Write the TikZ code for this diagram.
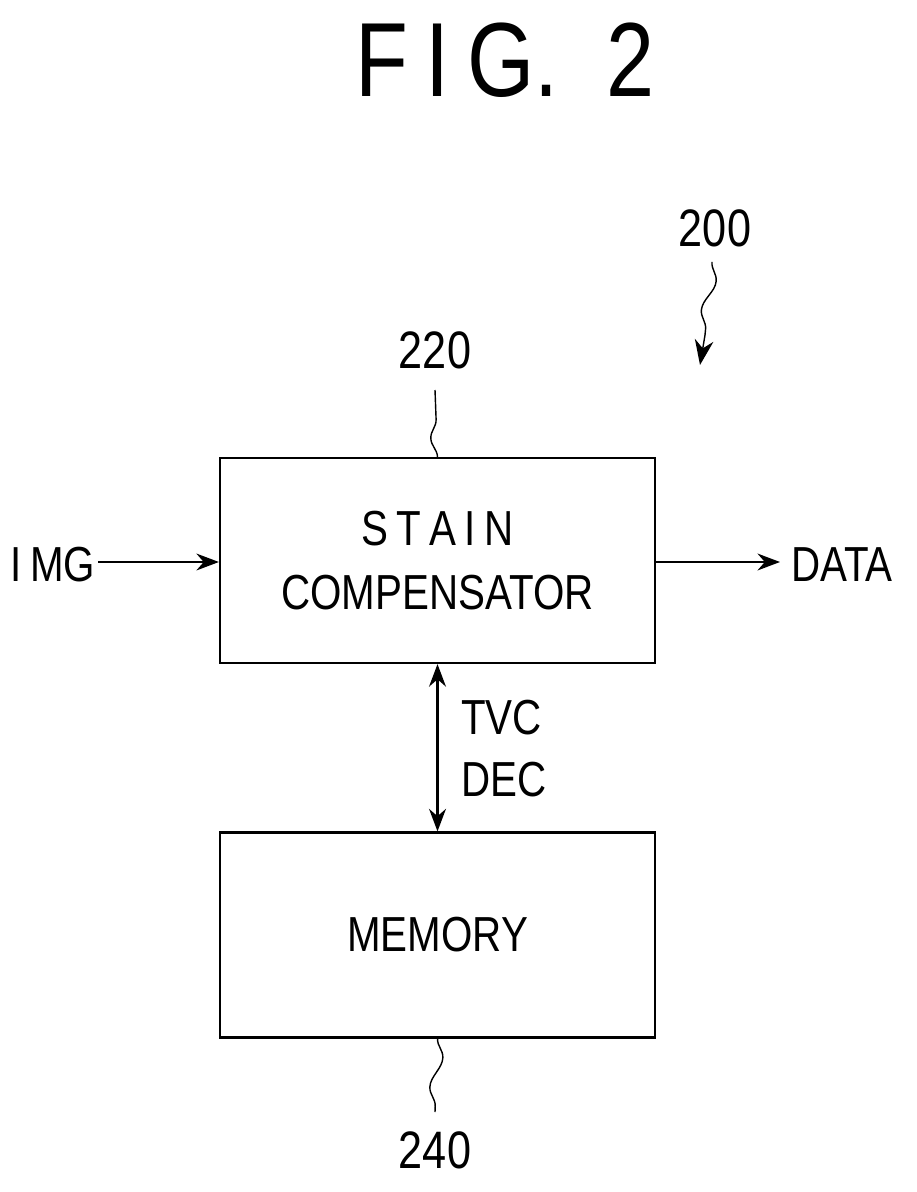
\documentclass[tikz,border=0pt]{standalone}
\usepackage{fontspec}
\setmainfont[FakeStretch=0.82]{Liberation Sans}
\usetikzlibrary{arrows.meta,decorations.pathmorphing}
\begin{document}
\begin{tikzpicture}[x=0.02cm,y=-0.02cm]
\tikzstyle{block}=[draw=black, line width=1.3pt, minimum width=8.7cm, minimum height=4.1cm, align=center, font=\fontsize{28}{36}\selectfont]
\tikzstyle{sig}=[font=\fontsize{28}{32}\selectfont]
\tikzstyle{ref}=[font=\fontsize{30}{34}\selectfont]
\tikzstyle{squig}=[line width=0.8pt, decorate, decoration={snake, amplitude=1.2mm, segment length=12mm}]
\useasboundingbox (0,0) rectangle (916,1192);

% Title
\node (title) at (505,60) [font=\fontsize{60}{70}\selectfont] {F\,I\,G.\ \ 2};

% Blocks
\node at (437.5,560.5) [block] (comp) {S\,T\,A\,I\,N\\COMPENSATOR};
\node at (437.5,935) [block] (mem) {MEMORY};

% Signals
\node at (53,565) [sig] (img) {I\,MG};
\node at (842,565) [sig] (data) {DATA};
\coordinate (imgend) at (98,562);
\draw [-{Stealth[length=4.5mm]}, line width=1.2pt] (imgend) -- (comp.west |- imgend);
\coordinate (dataend) at (780,562);
\draw [-{Stealth[length=4.5mm]}, line width=1.2pt] (comp.east |- dataend) -- (dataend);
\draw [{Stealth[length=4.5mm]}-{Stealth[length=4.5mm]}, line width=1.2pt] (comp.south) -- (mem.north);
\node at (455,718) [sig, anchor=west] (tvc) {TVC};
\node at (455,780) [sig, anchor=west] (dec) {DEC};

% Reference numerals
\node at (435,350) [ref] (r220) {220};
\node at (435,1150) [ref] (r240) {240};
\node at (715,228) [ref] (r200) {200};
\coordinate (p220) at (435,390);
\coordinate (p240) at (435,1112);
\coordinate (p200a) at (712,262);
\coordinate (p200b) at (700,365);
\draw [squig] (comp.north) -- (p220);
\draw [squig] (mem.south) -- (p240);
\draw [squig] (p200a) -- (705,335);
\draw [-{Stealth[length=5mm]}, line width=0.8pt] (705,335) -- (p200b);
\end{tikzpicture}
\end{document}
